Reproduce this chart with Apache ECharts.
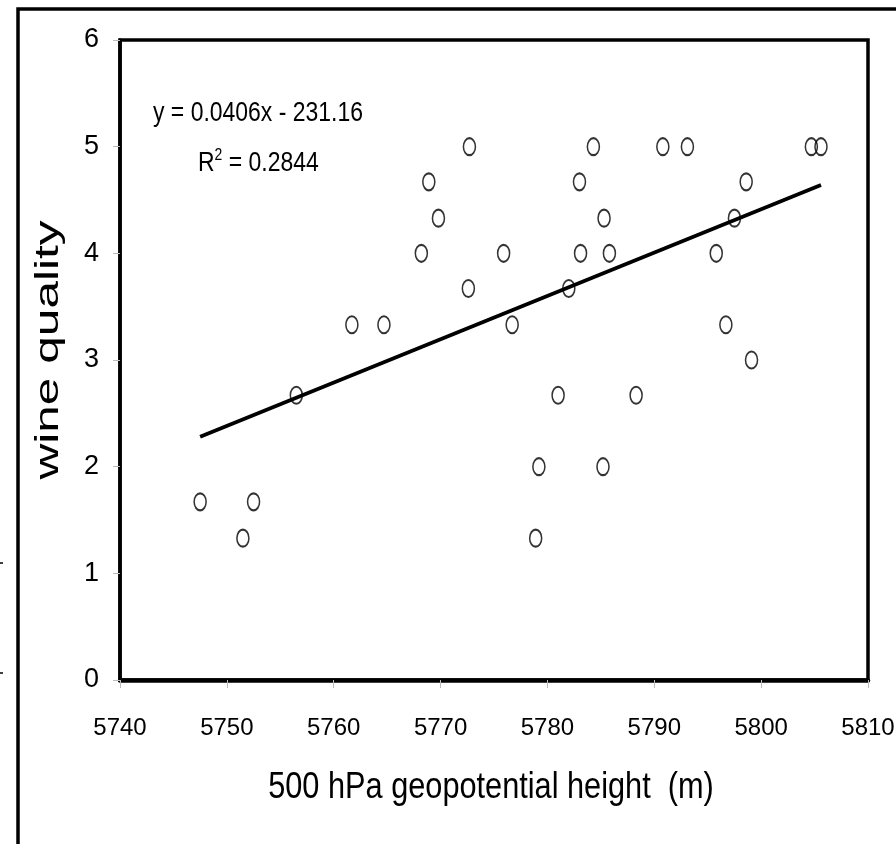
<!DOCTYPE html>
<html>
<head>
<meta charset="utf-8">
<script src="https://cdn.jsdelivr.net/npm/echarts@6/dist/echarts.min.js"></script>
<style>
html,body{margin:0;padding:0;background:#fff;}
#chart{width:896px;height:844px;}
</style>
</head>
<body>
<div id="chart"></div>
<script>
// Data
const heights = [5747.5, 5751.5, 5752.5, 5756.5, 5761.7, 5764.7, 5768.2, 5768.9, 5769.8, 5772.7,
                 5772.6, 5775.9, 5776.7, 5778.9, 5779.2, 5781.0, 5782.0, 5783.0, 5783.1, 5784.3,
                 5785.2, 5785.3, 5785.8, 5788.3, 5790.8, 5793.1, 5795.8, 5796.7, 5797.5, 5798.6,
                 5799.1, 5804.7, 5805.6];
const quality = [1.67, 1.33, 1.67, 2.67, 3.33, 3.33, 4.0, 4.67, 4.33, 5.0,
                 3.67, 4.0, 3.33, 1.33, 2.0, 2.67, 3.67, 4.67, 4.0, 5.0,
                 2.0, 4.33, 4.0, 2.67, 5.0, 5.0, 4.0, 3.33, 4.33, 4.67,
                 3.0, 5.0, 5.0];
const trendX = [5747.5, 5805.6];
const trendY = [2.28, 4.64];
const xTicks = [5740, 5750, 5760, 5770, 5780, 5790, 5800, 5810];
const yTicks = [0, 1, 2, 3, 4, 5, 6];
const xTitle = '500 hPa geopotential height  (m)';
const yTitle = 'wine quality';
const eqText = 'y = 0.0406x - 231.16';
const r2Value = '0.2844';

const sans = "'Liberation Sans', Arial, sans-serif";

const chart = echarts.init(document.getElementById('chart'), null, {renderer: 'canvas'});
const pts = heights.map((h, i) => [h, quality[i]]);
const trend = trendX.map((x, i) => [x, trendY[i]]);

chart.setOption({
  animation: false,
  backgroundColor: '#fff',
  grid: {left: 120, right: 28, top: 40, bottom: 164, show: true, containLabel: false,
         outerBoundsMode: 'none',
         borderColor: '#000', borderWidth: 3.5, backgroundColor: 'transparent'},
  xAxis: {
    type: 'value', min: xTicks[0], max: xTicks[xTicks.length - 1], interval: 10,
    axisLine: {show: true, onZero: false, lineStyle: {color: '#000', width: 4.5}},
    axisTick: {show: true, length: 8, lineStyle: {color: '#bbb', width: 1}},
    axisLabel: {margin: 36, fontFamily: sans, fontSize: 24, color: '#000',
                formatter: v => String(v)},
    splitLine: {show: false}
  },
  yAxis: {
    type: 'value', min: yTicks[0], max: yTicks[yTicks.length - 1], interval: 1,
    axisLine: {show: true, onZero: false, lineStyle: {color: '#000', width: 3.5}},
    axisTick: {show: true, length: 7, lineStyle: {color: '#bbb', width: 1}},
    axisLabel: {margin: 21, fontFamily: sans, fontSize: 27, color: '#000',
                formatter: v => String(v)},
    splitLine: {show: false}
  },
  series: [
    {
      type: 'scatter',
      data: pts,
      symbol: 'path://M10,0A10,10,0,1,1,10,20A10,10,0,1,1,10,0Z',
      symbolSize: [12, 17],
      itemStyle: {color: 'rgba(0,0,0,0)', borderColor: '#000', borderWidth: 1.8},
      z: 3
    },
    {
      type: 'line',
      data: trend,
      showSymbol: false,
      symbol: 'none',
      lineStyle: {color: '#000', width: 3.8},
      z: 4
    }
  ],
  graphic: [
    {type: 'rect', shape: {x: 18, y: 9, width: 1200, height: 1200}, silent: true,
     style: {fill: 'none', stroke: '#000', lineWidth: 3.5}, z: 100},
    {type: 'line', shape: {x1: 0, y1: 563, x2: 3, y2: 563}, style: {stroke: '#000', lineWidth: 1.5}},
    {type: 'line', shape: {x1: 0, y1: 673, x2: 3, y2: 673}, style: {stroke: '#000', lineWidth: 1.5}},
    {type: 'text', x: 49, y: 350, rotation: Math.PI / 2, scaleX: 1.55, scaleY: 1.05,
     style: {text: yTitle, font: "32px " + sans, fill: '#000', textAlign: 'center', textVerticalAlign: 'middle'}},
    {type: 'text', x: 491, y: 788, scaleX: 0.83,
     style: {text: xTitle, font: "37px " + sans, fill: '#000', textAlign: 'center', textVerticalAlign: 'middle'}},
    {type: 'text', x: 153, y: 113, scaleX: 0.82,
     style: {text: eqText, font: "28px " + sans, fill: '#000', textAlign: 'left', textVerticalAlign: 'middle'}},
    {type: 'text', x: 198, y: 163, scaleX: 0.82,
     style: {text: '{r|R}{s|2}{r| = ' + r2Value + '}', textAlign: 'left', textVerticalAlign: 'middle',
       rich: {
         r: {fontFamily: sans, fontSize: 28, color: '#000', lineHeight: 32, verticalAlign: 'middle'},
         s: {fontFamily: sans, fontSize: 17, color: '#000', lineHeight: 32, verticalAlign: 'top'}
       }}}
  ]
});
</script>
</body>
</html>
